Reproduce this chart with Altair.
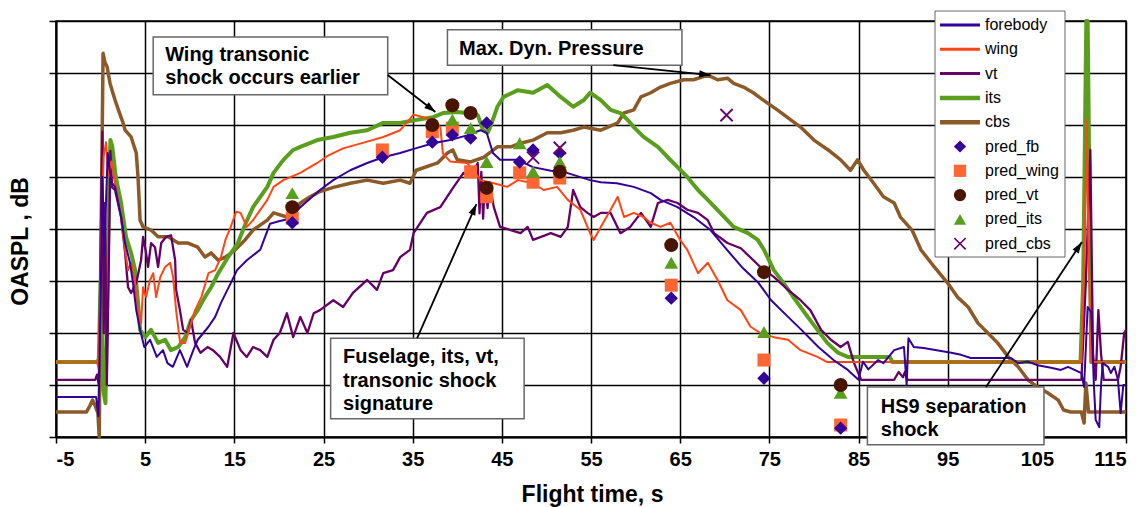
import math
import altair as alt
import pandas as pd

FONT = "Liberation Sans"

# ---------------- measured series: (flight time s, OASPL in grid divisions) ----------------
forebody = [(-5,0.77),(-0.5,0.77),(-0.25,0.4),(0.0,2.5),(0.2,5.0),(0.4,3.5),(0.8,5.46),(1.2,4.9),(1.62,4.81),
            (2.3,4.23),(2.75,3.73),(3.3,3.35),(3.64,2.96),(4.0,2.44),(4.43,2.06),(4.9,1.73),(5.55,1.87),(6.3,1.54),
            (7.0,1.67),(7.5,1.42),(8.1,1.35),(8.9,1.67),(9.7,1.35),(10.4,1.67),(10.9,1.87),(12.1,2.12),(12.85,2.31),
            (13.5,2.58),(14.6,2.96),(15.3,3.21),(16.4,3.4),(17.9,3.6),(19.0,4.1),(20.0,4.15),(21.3,4.2),(22.4,4.42),
            (24.6,4.75),(26.1,4.94),(28.0,5.13),(29.9,5.27),(31.7,5.38),(33.6,5.46),(35.5,5.56),(37.3,5.65),(39.2,5.71),
            (41.1,5.8),(42.6,5.9),(43.3,5.85),(44.0,5.46),(44.8,5.33),(46.7,5.33),(48.5,5.19),(50.5,5.12),(52.3,5.08),
            (54.9,4.94),(56.1,4.9),(57.9,4.88),(59.8,4.81),(61.7,4.69),(62.8,4.56),(64.7,4.42),(66.5,4.23),(68.4,3.98),
            (70.0,3.65),(71.9,3.27),(73.8,2.96),(75.2,2.63),(77.1,2.31),(78.6,2.06),(80.5,1.73),(82.2,1.48),(83.8,1.29),
            (85.0,1.1),(85.5,1.45),(86.1,1.3),(87.2,1.48),(87.8,1.42),(89.0,1.67),(90.1,1.73),(90.4,1.0),(90.6,1.9),
            (91.2,1.73),(92.3,1.71),(95.4,1.62),(96.5,1.58),(97.6,1.52),(102.1,1.52),(102.9,1.42),(104.0,1.45),
            (105.1,1.38),(106.6,1.33),(107.7,1.29),(108.5,1.35),(110.0,1.23),(110.3,0.96),(110.7,2.5),(111.1,2.4),
            (111.4,1.0),(111.6,0.33),(112.0,0.19),(112.2,1.0),(112.4,1.42),(113.0,1.35),(113.3,1.23),(113.7,1.35),
            (114.1,1.1),(114.4,0.46),(114.7,1.0),(115.0,1.0)]

wing = [(-5,1.44),(-0.4,1.44),(-0.2,1.3),(0.1,4.0),(0.35,5.4),(0.61,5.67),(0.9,5.0),(1.2,5.3),(1.62,4.88),
        (2.18,4.37),(2.75,3.6),(3.08,3.21),(3.42,3.35),(3.87,2.96),(4.2,2.44),(4.54,2.19),(4.77,2.88),(5.1,2.69),
        (5.55,3.02),(5.9,3.15),(6.23,2.69),(6.7,3.08),(7.24,3.27),(7.8,3.35),(8.13,3.08),(8.47,2.44),(8.92,1.81),
        (9.48,1.81),(10.15,2.19),(10.6,2.44),(11.3,2.69),(12.1,3.15),(12.85,3.21),(13.5,3.46),(14.0,3.79),
        (14.6,4.04),(15.2,4.33),(15.7,4.31),(16.4,4.04),(17.1,4.17),(18.7,4.56),(19.4,4.81),(20.5,4.94),
        (22.4,5.08),(24.3,5.27),(25.4,5.4),(27.2,5.55),(29.9,5.68),(31.7,5.77),(33.6,5.9),(35.1,6.2),(36.2,6.15),
        (37.3,6.1),(38.1,5.96),(38.4,5.45),(39.2,5.3),(41.1,5.27),(41.8,5.13),(42.6,4.94),(44.1,4.88),(45.6,4.81),
        (46.8,4.94),(48.5,4.88),(49.7,4.75),(51.2,4.81),(52.4,4.56),(53.8,4.37),(54.9,3.92),(55.3,3.79),(56.1,4.04),
        (57.2,4.37),(58.0,4.62),(58.7,4.23),(59.8,4.31),(60.9,4.23),(61.7,4.12),(62.8,4.04),(63.9,4.12),(65.0,3.79),
        (65.8,3.6),(67.0,3.15),(68.1,3.35),(69.2,3.02),(70.3,2.63),(71.8,2.44),(72.9,2.12),(74.0,2.0),(75.5,1.92),
        (77.1,1.87),(78.5,1.67),(80.4,1.54),(81.5,1.44),(110.0,1.44),(110.4,4.0),(110.6,6.1),(110.8,3.5),
        (111.1,1.44),(115.0,1.44)]

vt = [(-5,1.1),(-0.6,1.1),(-0.4,1.2),(-0.2,1.0),(0.0,3.5),(0.2,5.87),(0.35,2.0),(0.5,4.5),(0.7,1.0),(0.9,3.0),
      (1.1,5.5),(1.3,4.8),(1.62,4.75),(2.3,4.23),(2.75,3.54),(3.08,2.88),(3.42,2.77),(4.0,2.96),(4.54,3.4),
      (4.77,3.85),(5.1,3.54),(5.33,3.27),(5.66,3.73),(6.1,3.65),(6.45,3.27),(6.8,3.73),(7.35,3.85),(7.9,3.88),
      (8.36,3.4),(8.47,2.83),(8.9,2.44),(9.26,2.06),(9.8,2.0),(10.15,2.25),(10.6,1.81),(11.2,1.62),(12.0,1.73),
      (12.6,1.67),(13.4,1.54),(14.2,1.35),(14.9,2.0),(15.7,1.67),(16.4,1.54),(17.1,1.73),(17.9,1.67),(18.7,1.54),
      (19.4,1.87),(20.1,2.0),(20.9,2.38),(21.6,1.92),(22.4,2.31),(23.2,2.0),(23.9,2.38),(24.6,2.44),(26.1,2.63),
      (27.2,2.5),(28.3,2.77),(29.9,3.02),(31.0,2.83),(31.7,3.15),(32.8,3.21),(33.6,3.46),(34.7,3.6),(35.1,3.92),
      (36.6,4.31),(38.1,4.42),(39.6,4.81),(40.7,5.08),(41.5,5.0),(42.3,5.27),(42.5,4.3),(42.7,5.1),(42.9,4.2),
      (43.1,4.9),(43.4,4.4),(43.6,4.9),(44.1,4.42),(44.8,4.04),(46.0,3.98),(47.1,3.92),(47.9,4.04),(48.5,3.79),
      (50.5,3.92),(51.6,3.85),(52.4,4.04),(53.0,4.75),(53.8,4.42),(54.6,4.31),(55.3,4.23),(56.1,4.31),(57.2,4.31),
      (58.3,3.92),(59.4,4.04),(60.6,4.31),(61.7,4.04),(62.5,4.5),(63.6,4.56),(64.7,4.5),(65.8,4.37),(67.0,4.31),
      (68.1,4.17),(68.8,3.92),(70.3,3.73),(71.8,3.63),(74.0,3.27),(75.5,3.08),(77.1,2.83),(78.5,2.63),(79.6,2.44),
      (80.8,2.06),(81.9,1.87),(83.0,1.73),(83.8,1.83),(84.5,1.42),(85.3,1.1),(89.0,1.1),(89.5,1.25),(90.0,1.15),
      (90.2,1.25),(90.5,1.1),(110.0,1.1),(110.5,3.0),(111.0,5.52),(111.3,1.6),(111.6,1.1),(111.9,2.44),
      (112.2,1.6),(112.5,1.1),(114.1,1.1),(114.4,1.35),(114.8,2.0),(115.0,2.06)]

its = [(-5,1.44),(-0.4,1.44),(-0.2,1.5),(0.0,3.0),(0.3,0.9),(0.55,0.65),(0.75,3.0),(1.0,5.0),(1.1,5.71),
       (1.3,5.6),(1.7,5.0),(2.3,4.5),(2.85,3.85),(3.42,3.54),(3.87,3.21),(4.2,2.58),(4.43,2.06),(5.0,1.92),
       (5.66,2.06),(6.45,1.81),(7.24,1.87),(7.9,1.67),(8.7,1.73),(9.48,1.92),(10.15,2.25),(10.9,2.44),(11.7,2.69),
       (12.4,2.88),(13.2,3.15),(14.3,3.46),(15.4,3.73),(16.3,4.12),(17.1,4.42),(18.7,4.81),(19.4,5.08),(20.5,5.33),
       (21.6,5.52),(22.4,5.58),(24.3,5.71),(26.1,5.77),(28.0,5.85),(29.9,5.9),(31.7,6.04),(33.6,6.04),(35.5,6.1),
       (37.3,6.15),(38.4,6.23),(40.0,6.25),(41.1,6.23),(42.3,6.19),(42.9,5.9),(43.4,5.85),(43.7,5.96),(44.5,6.35),
       (45.2,6.54),(46.8,6.67),(48.5,6.62),(50.1,6.77),(51.6,6.54),(53.0,6.35),(54.2,6.48),(54.9,6.62),(56.1,6.48),
       (57.2,6.29),(58.3,6.23),(59.1,6.1),(59.8,5.96),(60.9,5.77),(62.5,5.58),(63.6,5.38),(64.7,5.19),(65.8,5.0),
       (67.0,4.75),(68.1,4.56),(69.5,4.31),(71.0,4.04),(72.6,3.92),(73.7,3.79),(74.4,3.6),(75.5,3.21),(76.6,2.96),
       (77.7,2.69),(79.3,2.31),(80.4,2.06),(81.5,1.81),(82.7,1.62),(83.8,1.54),(88.5,1.54),(88.8,1.44),
       (109.9,1.44),(110.2,3.0),(110.55,8.0),(110.7,8.0),(111.1,1.44),(115.0,1.44)]

cbs = [(-5,0.48),(-1.6,0.48),(-1.2,0.6),(-0.9,0.71),(-0.6,0.6),(-0.3,0.46),(-0.15,0.0),(0.0,3.0),(0.28,7.38),
       (0.5,7.2),(0.73,7.12),(1.06,6.8),(1.62,6.48),(2.0,6.29),(2.52,6.04),(2.75,5.9),(3.42,5.77),(4.0,5.46),
       (4.2,5.0),(4.43,4.17),(4.77,4.04),(5.66,3.98),(6.45,3.85),(7.57,3.85),(8.7,3.73),(9.8,3.73),(10.9,3.65),
       (11.7,3.46),(12.4,3.54),(13.2,3.4),(14.0,3.46),(15.1,3.6),(16.2,3.79),(17.1,3.98),(18.7,4.17),(19.4,4.31),
       (20.9,4.23),(21.6,4.31),(22.4,4.5),(23.5,4.62),(24.6,4.72),(26.1,4.8),(28.0,4.88),(29.9,4.94),(31.7,4.88),
       (33.6,4.94),(34.7,4.88),(35.4,5.13),(37.8,5.27),(38.9,5.46),(39.5,5.52),(40.0,5.33),(41.5,5.29),(43.0,5.38),
       (44.5,5.58),(46.0,5.58),(47.1,5.65),(48.5,5.71),(50.1,5.85),(51.6,5.85),(53.0,5.9),(54.2,5.96),(56.1,5.9),
       (56.9,5.96),(58.0,6.04),(58.7,6.23),(59.8,6.29),(60.6,6.54),(61.7,6.62),(62.8,6.73),(63.9,6.8),(65.4,6.87),
       (66.5,6.87),(68.1,6.96),(69.2,6.87),(70.3,6.9),(71.0,6.8),(72.1,6.73),(73.2,6.62),(74.8,6.42),(75.9,6.29),
       (77.4,6.1),(78.5,5.96),(80.0,5.71),(81.6,5.52),(83.0,5.33),(84.1,5.13),(84.9,5.33),(85.6,5.13),(86.7,4.88),
       (87.8,4.62),(89.0,4.5),(89.7,4.23),(91.0,3.98),(92.0,3.6),(93.5,3.27),(95.0,2.96),(96.1,2.69),(97.3,2.5),
       (98.4,2.19),(99.5,2.0),(100.6,1.81),(101.8,1.54),(102.9,1.35),(104.0,1.1),(105.1,0.96),(106.2,0.85),
       (107.4,0.71),(108.0,0.52),(108.8,0.48),(110.0,0.48),(110.3,0.27),(110.5,1.04),(110.8,0.48),(115.0,0.48)]

# ---------------- predictions ----------------
pred_fb = [(21.5,4.12),(31.6,5.38),(37.2,5.67),(39.45,5.81),(41.5,5.75),(43.3,6.04),(47.0,5.29),(48.5,5.52),
           (51.5,5.46),(64.0,2.67),(74.4,1.13),(83.0,0.17)]
pred_wing = [(21.5,4.21),(31.6,5.52),(37.2,5.87),(39.45,5.94),(41.5,5.1),(43.3,4.62),(47.0,5.08),(48.5,4.9),
             (51.5,4.98),(64.0,2.92),(74.4,1.48),(83.0,0.23)]
pred_vt = [(21.5,4.42),(37.2,6.0),(39.45,6.38),(41.5,6.23),(43.3,4.79),(51.5,5.1),(64.0,3.69),(74.4,3.17),(83.0,1.0)]
pred_its = [(21.5,4.69),(39.45,6.1),(41.5,5.94),(43.3,5.29),(47.0,5.65),(48.5,5.1),(51.5,5.29),(64.0,3.35),
            (74.4,2.02),(83.0,0.85)]
pred_cbs = [(48.5,5.37),(51.5,5.56),(70.2,6.19)]

# ---------------- annotations (data coordinates) ----------------
box_x1 = [5.9, 38.9, 25.8, 86.0]
box_x2 = [32.2, 65.2, 47.5, 105.8]
box_y1 = [7.69, 7.83, 1.90, 0.96]
box_y2 = [6.58, 7.15, 0.35, -0.15]
note_lines = ["Wing transonic", "shock occurs earlier", "Max. Dyn. Pressure",
              "Fuselage, its, vt,", "transonic shock", "signature", "HS9 separation", "shock"]
note_x = [7.24, 7.24, 40.2, 27.2, 27.2, 27.2, 87.5, 87.5]
note_y = [7.35, 6.90, 7.46, 1.54, 1.08, 0.63, 0.58, 0.13]
arrow_x1 = [32.2, 57.5, 35.5, 99.3]
arrow_y1 = [6.96, 7.15, 1.90, 0.96]
arrow_x2 = [37.55, 68.4, 42.15, 110.05]
arrow_y2 = [6.25, 6.96, 4.48, 3.75]

W, H = 1070, 416
XDOM, YDOM = [-5, 115], [0, 8]

xs = alt.Scale(domain=XDOM, nice=False, zero=False)
ys = alt.Scale(domain=YDOM, nice=False, zero=False)
xaxis = alt.Axis(values=list(range(-5, 116, 10)), title="Flight time, s", tickSize=6, labelPadding=6,
                 labelExpr="'' + datum.value",
                 titleX=536, titleY=57, titleBaseline="middle", titleAlign="center")
yaxis = alt.Axis(values=list(range(0, 9)), labels=False, title="OASPL , dB", tickSize=7,
                 titleX=-36, titleY=220, titleAngle=270, titleBaseline="middle", titleAlign="center")


def X(f):
    return alt.X(f, scale=xs, axis=xaxis)


def Y(f):
    return alt.Y(f, scale=ys, axis=yaxis)


def df_of(pts):
    return pd.DataFrame({"t": [p[0] for p in pts], "v": [p[1] for p in pts]})


line_specs = [  # drawn back to front
    (cbs, "#8C5A28", 3.5),
    (its, "#5A9E1E", 4.0),
    (vt, "#660066", 2.3),
    (wing, "#FF4513", 2.0),
    (forebody, "#330099", 2.0),
]
layers = []
for pts, col, sw in line_specs:
    layers.append(alt.Chart(df_of(pts)).mark_line(color=col, strokeWidth=sw, strokeJoin="round")
                  .encode(x=X("t:Q"), y=Y("v:Q")))

XPATH = "M-1,-1L1,1M-1,1L1,-1"
marker_specs = [
    (pred_wing, "square", "#FF6633", 169, True),
    (pred_fb, "diamond", "#330099", 180, True),
    (pred_its, "triangle-up", "#5A9E1E", 190, True),
    (pred_vt, "circle", "#4A1500", 196, True),
    (pred_cbs, XPATH, "#660066", 150, False),
]
for pts, shp, col, sz, filled in marker_specs:
    if filled:
        m = alt.Chart(df_of(pts)).mark_point(shape=shp, filled=True, color=col, size=sz, opacity=1, strokeWidth=0)
    else:
        m = alt.Chart(df_of(pts)).mark_point(shape=shp, filled=False, color=col, size=sz, opacity=1, strokeWidth=1.8)
    layers.append(m.encode(x=X("t:Q"), y=Y("v:Q")))

# annotation boxes, text, arrows
boxes = pd.DataFrame({"x1": box_x1, "x2": box_x2, "y1": box_y1, "y2": box_y2})
layers.append(alt.Chart(boxes).mark_rect(fill="white", stroke="#666666", strokeWidth=1.5, clip=False)
              .encode(x=X("x1:Q"), x2="x2:Q", y=Y("y1:Q"), y2="y2:Q"))
notes = pd.DataFrame({"x": note_x, "y": note_y, "txt": note_lines})
layers.append(alt.Chart(notes).mark_text(align="left", baseline="middle", font=FONT, fontSize=20,
                                          fontWeight="bold", color="black", clip=False)
              .encode(x=X("x:Q"), y=Y("y:Q"), text="txt:N"))

sx = W / (XDOM[1] - XDOM[0])
sy = H / (YDOM[1] - YDOM[0])
angles = []
for a, b, c, d in zip(arrow_x1, arrow_y1, arrow_x2, arrow_y2):
    dx = (c - a) * sx
    dy = -(d - b) * sy
    angles.append(math.degrees(math.atan2(dx, -dy)) % 360)
arrows = pd.DataFrame({"x1": arrow_x1, "y1": arrow_y1, "x2": arrow_x2, "y2": arrow_y2, "ang": angles})
layers.append(alt.Chart(arrows).mark_rule(color="black", strokeWidth=1.8, clip=False)
              .encode(x=X("x1:Q"), y=Y("y1:Q"), x2="x2:Q", y2="y2:Q"))
HEAD = "M0,0L0.42,1.3L-0.42,1.3Z"
layers.append(alt.Chart(arrows).mark_point(shape=HEAD, filled=True, color="black", size=300, opacity=1,
                                            strokeWidth=0, clip=False)
              .encode(x=X("x2:Q"), y=Y("y2:Q"), angle=alt.Angle("ang:Q", scale=None)))

# ---------------- legend (pixel layout relative to the plot area) ----------------
leg_names = ["forebody", "wing", "vt", "its", "cbs", "pred_fb", "pred_wing", "pred_vt", "pred_its", "pred_cbs"]
leg_colors = ["#330099", "#FF4513", "#660066", "#5A9E1E", "#8C5A28",
              "#330099", "#FF6633", "#4A1500", "#5A9E1E", "#660066"]
leg_widths = [3, 3, 3, 4.5, 4.5]
leg_shapes = ["diamond", "square", "circle", "triangle-up"]
LX0, LX1, LY0, LY1 = 879, 1009, -10, 236
row_y = [4 + 24.3 * i for i in range(10)]

legbox = pd.DataFrame({"a": [LX0], "b": [LX1], "c": [LY0], "d": [LY1]})
layers.append(alt.Chart(legbox).mark_rect(fill="white", stroke="#666666", strokeWidth=1, clip=False)
              .encode(x=alt.X("a:Q", scale=None, axis=None), x2="b:Q",
                      y=alt.Y("c:Q", scale=None, axis=None), y2="d:Q"))
leg_lines = pd.DataFrame({"a": [LX0 + 5] * 5, "b": [LX0 + 45] * 5, "y": row_y[:5],
                          "col": leg_colors[:5], "w": leg_widths})
layers.append(alt.Chart(leg_lines).mark_rule(clip=False)
              .encode(x=alt.X("a:Q", scale=None, axis=None), x2="b:Q",
                      y=alt.Y("y:Q", scale=None, axis=None),
                      color=alt.Color("col:N", scale=None),
                      strokeWidth=alt.StrokeWidth("w:Q", scale=None)))
leg_marks = pd.DataFrame({"x": [LX0 + 25] * 4, "y": row_y[5:9], "col": leg_colors[5:9], "shp": leg_shapes})
layers.append(alt.Chart(leg_marks).mark_point(filled=True, size=150, opacity=1, strokeWidth=0, clip=False)
              .encode(x=alt.X("x:Q", scale=None, axis=None), y=alt.Y("y:Q", scale=None, axis=None),
                      color=alt.Color("col:N", scale=None), shape=alt.Shape("shp:N", scale=None)))
leg_x = pd.DataFrame({"x": [LX0 + 25], "y": [row_y[9]]})
layers.append(alt.Chart(leg_x).mark_point(shape=XPATH, filled=False, color="#660066", size=130, opacity=1,
                                           strokeWidth=1.6, clip=False)
              .encode(x=alt.X("x:Q", scale=None, axis=None), y=alt.Y("y:Q", scale=None, axis=None)))
leg_text = pd.DataFrame({"x": [LX0 + 50] * 10, "y": row_y, "txt": leg_names})
layers.append(alt.Chart(leg_text).mark_text(align="left", baseline="middle", font=FONT, fontSize=16,
                                             color="black", clip=False)
              .encode(x=alt.X("x:Q", scale=None, axis=None), y=alt.Y("y:Q", scale=None, axis=None),
                      text="txt:N"))

chart = (
    alt.layer(*layers)
    .properties(width=W, height=H, autosize=alt.AutoSizeParams(type="none"),
                padding={"left": 56, "top": 21, "right": 19, "bottom": 70})
    .configure(background="white")
    .configure_view(stroke="black", strokeWidth=1.5)
    .configure_axis(domainColor="black", domainWidth=2, tickColor="black", tickWidth=1.5,
                    gridColor="black", gridWidth=1.5, gridOpacity=1,
                    labelFont=FONT, labelFontSize=20, labelFontWeight="bold", labelColor="black",
                    titleFont=FONT, titleFontSize=23, titleFontWeight="bold", titleColor="black")
)
chart.save("out.html", embed_options={"renderer": "svg", "actions": False})
